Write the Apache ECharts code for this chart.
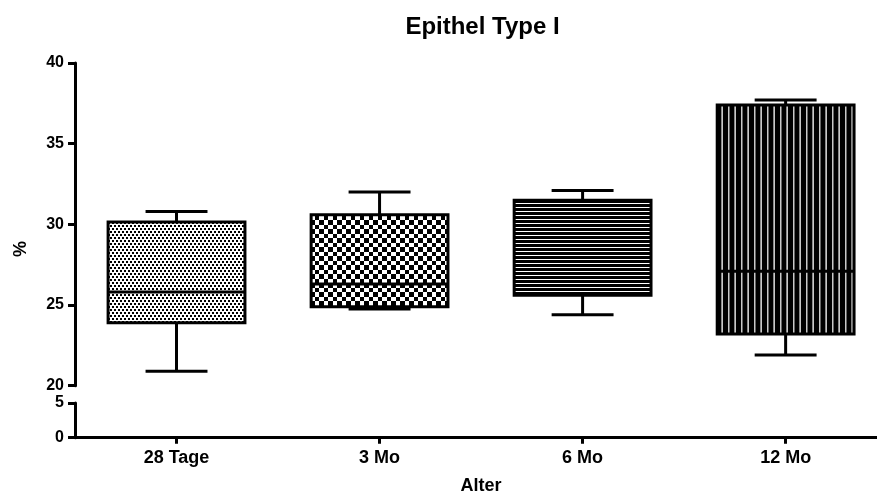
<!DOCTYPE html>
<html>
<head>
<meta charset="utf-8">
<script src="https://cdn.jsdelivr.net/npm/echarts@6/dist/echarts.min.js"></script>
<style>
  html, body { margin: 0; padding: 0; background: #fff; }
  #chart { width: 877px; height: 497px; }
</style>
</head>
<body>
<div id="chart"></div>
<script>
// Age groups and five-number summaries (% Epithel Type I)
const categories = ['28 Tage', '3 Mo', '6 Mo', '12 Mo'];
const minValues = [20.9, 24.75, 24.4, 21.9];
const q1Values = [23.9, 24.9, 25.6, 23.2];
const medianValues = [25.8, 26.3, 27.2, 27.1];
const q3Values = [30.15, 30.6, 31.5, 37.4];
const maxValues = [30.8, 32.0, 32.1, 37.7];

const upperTicks = [20, 25, 30, 35, 40];
const lowerTicks = [0, 5];

const FONT = '"Liberation Sans", Arial, sans-serif';

// Hatch fills, one per group
function makeTile(w, h, draw) {
  const c = document.createElement('canvas');
  c.width = w; c.height = h;
  const ctx = c.getContext('2d');
  ctx.fillStyle = '#fff';
  ctx.fillRect(0, 0, w, h);
  draw(ctx);
  return c;
}
const fills = [
  // fine dots
  makeTile(4, 6, ctx => {
    ctx.fillStyle = '#000';
    ctx.fillRect(0, 0, 2, 2);
    ctx.fillRect(2, 3, 2, 2);
  }),
  // checkerboard
  makeTile(9, 9, ctx => {
    ctx.fillStyle = '#000';
    ctx.fillRect(0, 0, 4, 4);
    ctx.fillRect(4, 4, 5, 5);
  }),
  // horizontal lines
  makeTile(4, 4, ctx => {
    ctx.fillStyle = '#000';
    ctx.fillRect(0, 0, 4, 3);
  }),
  // vertical lines
  makeTile(13, 4, ctx => {
    ctx.fillStyle = '#000';
    ctx.fillRect(0, 0, 13, 4);
    ctx.fillStyle = '#c8c8c8';
    ctx.fillRect(0, 0, 1, 4);
    ctx.fillRect(7, 0, 1, 4);
    ctx.fillStyle = '#666';
    ctx.fillRect(1, 0, 1, 4);
    ctx.fillStyle = '#888';
    ctx.fillRect(6, 0, 1, 4);
  })
];

const categoryIndex = categories.map((c, i) => i);
const boxData = categories.map((c, i) => [i, minValues[i], q1Values[i], medianValues[i], q3Values[i], maxValues[i]]);

function renderBox(params, api) {
  const i = api.value(0);
  const unit = api.size([1, 0])[0];
  const boxW = unit * 0.674;
  const capW = unit * 0.305;
  const pMin = api.coord([i, api.value(1)]);
  const pQ1 = api.coord([i, api.value(2)]);
  const pMed = api.coord([i, api.value(3)]);
  const pQ3 = api.coord([i, api.value(4)]);
  const pMax = api.coord([i, api.value(5)]);
  const cx = pMin[0];
  const line = { stroke: '#000', lineWidth: 3 };
  return {
    type: 'group',
    children: [
      { type: 'line', shape: { x1: cx, y1: pMin[1], x2: cx, y2: pQ1[1] }, style: line },
      { type: 'line', shape: { x1: cx, y1: pQ3[1], x2: cx, y2: pMax[1] }, style: line },
      { type: 'line', shape: { x1: cx - capW / 2, y1: pMin[1], x2: cx + capW / 2, y2: pMin[1] }, style: line },
      { type: 'line', shape: { x1: cx - capW / 2, y1: pMax[1], x2: cx + capW / 2, y2: pMax[1] }, style: line },
      {
        type: 'rect',
        shape: { x: cx - boxW / 2, y: pQ3[1], width: boxW, height: pQ1[1] - pQ3[1] },
        style: { fill: { image: fills[i], repeat: 'repeat' }, stroke: '#000', lineWidth: 3 }
      },
      { type: 'line', shape: { x1: cx - boxW / 2, y1: pMed[1], x2: cx + boxW / 2, y2: pMed[1] }, style: line }
    ]
  };
}

const axisLineStyle = { show: true, onZero: false, lineStyle: { color: '#000', width: 3 } };
const yLabelStyle = { color: '#000', fontFamily: FONT, fontWeight: 'bold', fontSize: 16 };
const xLabelStyle = { color: '#000', fontFamily: FONT, fontWeight: 'bold', fontSize: 18 };

// Group positions run from -0.5 to the right edge of the plot
const X_MIN = -0.5;
const X_MAX = 3.45;

const chart = echarts.init(document.getElementById('chart'), null, { renderer: 'canvas' });
chart.setOption({
  animation: false,
  backgroundColor: '#fff',
  grid: [
    { left: 75, right: 0, top: 63, bottom: 111.3 },
    { left: 75, right: 0, top: 403, bottom: 59.3 }
  ],
  xAxis: [
    {
      type: 'value', gridIndex: 0, min: X_MIN, max: X_MAX,
      axisLine: { show: false }, axisTick: { show: false }, axisLabel: { show: false }, splitLine: { show: false }
    },
    {
      type: 'value', gridIndex: 1, min: X_MIN, max: X_MAX,
      axisLine: axisLineStyle,
      axisTick: { show: true, customValues: categoryIndex, length: 6, lineStyle: { color: '#000', width: 3 } },
      axisLabel: Object.assign({
        margin: 11,
        customValues: categoryIndex,
        formatter: v => categories[Math.round(v)]
      }, xLabelStyle),
      splitLine: { show: false }
    }
  ],
  yAxis: [
    {
      type: 'value', gridIndex: 0, min: upperTicks[0], max: upperTicks[upperTicks.length - 1], interval: 5,
      axisLine: axisLineStyle,
      axisTick: { show: true, length: 7, lineStyle: { color: '#000', width: 3 } },
      axisLabel: Object.assign({ margin: 11 }, yLabelStyle),
      splitLine: { show: false }
    },
    {
      type: 'value', gridIndex: 1, min: lowerTicks[0], max: lowerTicks[1], interval: 5,
      axisLine: axisLineStyle,
      axisTick: { show: true, length: 7, lineStyle: { color: '#000', width: 3 } },
      axisLabel: Object.assign({ margin: 11 }, yLabelStyle),
      splitLine: { show: false }
    }
  ],
  graphic: [
    {
      type: 'text', x: 482.5, y: 27,
      style: { text: 'Epithel Type I', fill: '#000', font: 'bold 24px ' + FONT, textAlign: 'center', textVerticalAlign: 'middle' }
    },
    {
      type: 'text', x: 21, y: 249, rotation: Math.PI / 2,
      style: { text: '%', fill: '#000', font: 'bold 18px ' + FONT, textAlign: 'center', textVerticalAlign: 'middle' }
    },
    {
      type: 'text', x: 481, y: 486,
      style: { text: 'Alter', fill: '#000', font: 'bold 18px ' + FONT, textAlign: 'center', textVerticalAlign: 'middle' }
    }
  ],
  series: [{
    type: 'custom',
    xAxisIndex: 0, yAxisIndex: 0,
    renderItem: renderBox,
    encode: { x: 0, y: [1, 2, 3, 4, 5] },
    data: boxData,
    clip: false
  }]
});
</script>
</body>
</html>
